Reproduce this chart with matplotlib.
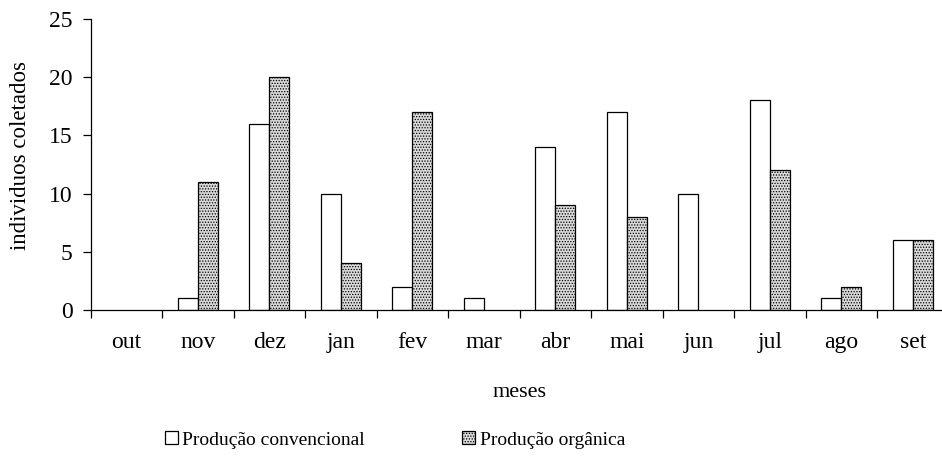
import matplotlib.pyplot as plt
import numpy as np
from matplotlib.patches import Patch

plt.rcParams['font.family'] = ['Liberation Serif', 'DejaVu Serif']
plt.rcParams['hatch.linewidth'] = 0.6

# dados
meses = ['out', 'nov', 'dez', 'jan', 'fev', 'mar', 'abr', 'mai', 'jun', 'jul', 'ago', 'set']
convencional = [0, 1, 16, 10, 2, 1, 14, 17, 10, 18, 1, 6]
organica = [0, 11, 20, 4, 17, 0, 9, 8, 0, 12, 2, 6]

fig = plt.figure(figsize=(9.42, 4.59), dpi=100)
ax = fig.add_axes([0.0961, 0.3246, 0.9108, 0.634])

x = np.arange(len(meses))
w = 0.28
# barras com valor 0 ficam sem contorno
lw_conv = [0.9 if v else 0 for v in convencional]
lw_org = [0.9 if v else 0 for v in organica]
ax.bar(x - w / 2, convencional, w, color='white', edgecolor='black', linewidth=lw_conv)
ax.bar(x + w / 2, organica, w, color='#d9d9d9', edgecolor='black', linewidth=lw_org, hatch='......')

# eixos
ax.set_xlim(-0.5, len(meses) - 0.5)
ax.set_ylim(0, 25)
ax.set_yticks([0, 5, 10, 15, 20, 25])
ax.set_xticks(x)
ax.set_xticklabels(meses)
ax.set_xticks(np.arange(-0.5, len(meses), 1), minor=True)
ax.tick_params(axis='x', which='major', length=0, pad=16, labelsize=17)
ax.tick_params(axis='x', which='minor', length=6, width=0.9, direction='out')
ax.tick_params(axis='y', length=6, width=0.9, direction='out', pad=7, labelsize=17)
ax.spines['top'].set_visible(False)
ax.spines['right'].set_visible(False)
ax.spines['left'].set_linewidth(0.9)
ax.spines['bottom'].set_linewidth(0.9)

ax.set_xlabel('meses', fontsize=16, va='center')
ax.xaxis.set_label_coords(0.5, -0.285)
ax.set_ylabel('individuos coletados', fontsize=16.5, va='center')
ax.yaxis.set_label_coords(-0.082, 0.53)

# legenda
handles = [Patch(facecolor='white', edgecolor='black', linewidth=0.9),
           Patch(facecolor='#d9d9d9', edgecolor='black', linewidth=0.9, hatch='......')]
fig.legend(handles, ['Produção convencional', 'Produção orgânica'], ncol=2, frameon=False,
           loc='center left', bbox_to_anchor=(165 / 942, 1 - 440 / 459), fontsize=14,
           handlelength=0.65, handleheight=0.65, handletextpad=0.25, columnspacing=5.0,
           borderpad=0, borderaxespad=0)

plt.savefig('out.png', dpi=100)
